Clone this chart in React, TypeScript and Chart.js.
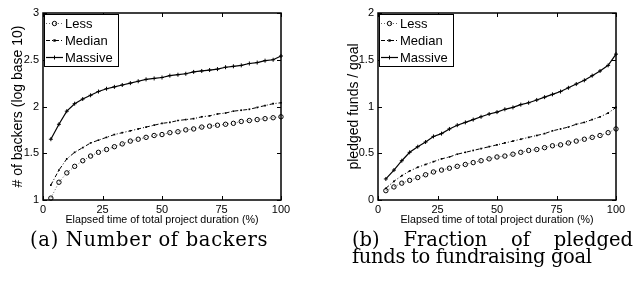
import React, { useEffect, useRef } from 'react';
import { Chart, registerables } from 'chart.js';

Chart.register(...registerables);
Chart.defaults.font.family = "'Liberation Sans', Arial, sans-serif";
Chart.defaults.color = '#000';

// Elapsed time (% of total project duration)
const elapsed = [3.3, 6.7, 10, 13.3, 16.7, 20, 23.3, 26.7, 30, 33.3, 36.7, 40, 43.3, 46.7, 50, 53.3, 56.7, 60, 63.3, 66.7, 70, 73.3, 76.7, 80, 83.3, 86.7, 90, 93.3, 96.7, 100];
const xTicks = [0, 25, 50, 75, 100];
const seriesNames = ['Less', 'Median', 'Massive'];

// (a) Number of backers (log base 10)
const backersLess = [1.02, 1.19, 1.29, 1.36, 1.42, 1.47, 1.51, 1.54, 1.57, 1.60, 1.63, 1.65, 1.67, 1.69, 1.70, 1.72, 1.73, 1.75, 1.76, 1.78, 1.79, 1.80, 1.81, 1.82, 1.84, 1.85, 1.86, 1.87, 1.88, 1.89];
const backersMedian = [1.16, 1.32, 1.44, 1.51, 1.56, 1.61, 1.64, 1.67, 1.70, 1.72, 1.74, 1.76, 1.78, 1.80, 1.82, 1.83, 1.85, 1.86, 1.87, 1.89, 1.90, 1.92, 1.93, 1.95, 1.96, 1.97, 1.99, 2.01, 2.03, 2.04];
const backersMassive = [1.65, 1.81, 1.95, 2.03, 2.08, 2.12, 2.16, 2.19, 2.21, 2.23, 2.25, 2.27, 2.29, 2.30, 2.31, 2.33, 2.34, 2.35, 2.37, 2.38, 2.39, 2.40, 2.42, 2.43, 2.44, 2.46, 2.47, 2.49, 2.50, 2.54];
const backersTicks = [1, 1.5, 2, 2.5, 3];

// (b) Fraction of pledged funds to fundraising goal
const fundsLess = [0.10, 0.14, 0.18, 0.21, 0.24, 0.27, 0.30, 0.32, 0.34, 0.36, 0.38, 0.40, 0.42, 0.44, 0.46, 0.47, 0.49, 0.51, 0.53, 0.54, 0.56, 0.58, 0.59, 0.61, 0.63, 0.65, 0.67, 0.69, 0.72, 0.76];
const fundsMedian = [0.125, 0.20, 0.26, 0.31, 0.35, 0.38, 0.41, 0.44, 0.46, 0.49, 0.51, 0.53, 0.55, 0.57, 0.59, 0.61, 0.63, 0.65, 0.67, 0.69, 0.71, 0.74, 0.76, 0.78, 0.81, 0.83, 0.86, 0.89, 0.93, 0.99];
const fundsMassive = [0.225, 0.32, 0.42, 0.51, 0.57, 0.62, 0.68, 0.71, 0.76, 0.80, 0.83, 0.86, 0.89, 0.92, 0.94, 0.97, 0.99, 1.02, 1.04, 1.07, 1.10, 1.13, 1.16, 1.20, 1.24, 1.28, 1.33, 1.38, 1.44, 1.56];
const fundsTicks = [0, 0.5, 1, 1.5, 2];

type Spec = {
  left: number;
  width: number;
  height: number;
  axisWidth: number;
  yTitlePad: number;
  yLabel: string;
  yTicks: number[];
  less: number[];
  median: number[];
  massive: number[];
};

const framePlugin = {
  id: 'frameTicks',
  afterDatasetsDraw(chart: any) {
    const { ctx, chartArea: a, scales } = chart;
    const tl = 4;
    ctx.save();
    ctx.strokeStyle = '#000';
    ctx.lineWidth = 1;
    ctx.setLineDash([]);
    ctx.beginPath();
    scales.x.ticks.forEach((t: any) => {
      const px = Math.round(scales.x.getPixelForValue(t.value)) + 0.5;
      ctx.moveTo(px, a.bottom);
      ctx.lineTo(px, a.bottom - tl);
      ctx.moveTo(px, a.top);
      ctx.lineTo(px, a.top + tl);
    });
    scales.y.ticks.forEach((t: any) => {
      const py = Math.round(scales.y.getPixelForValue(t.value)) + 0.5;
      ctx.moveTo(a.left, py);
      ctx.lineTo(a.left + tl, py);
      ctx.moveTo(a.right, py);
      ctx.lineTo(a.right - tl, py);
    });
    ctx.stroke();
    ctx.lineWidth = 1.5;
    ctx.strokeRect(a.left, a.top, a.right - a.left, a.bottom - a.top);
    ctx.restore();
  },
};

function drawMarker(ctx: CanvasRenderingContext2D, style: string, x: number, y: number, r: number) {
  ctx.setLineDash([]);
  ctx.beginPath();
  if (style === 'circle') {
    ctx.arc(x, y, r, 0, Math.PI * 2);
    ctx.stroke();
  } else if (style === 'rect') {
    ctx.fillRect(x - r, y - r, r * 2, r * 2);
  } else {
    ctx.moveTo(x - r, y);
    ctx.lineTo(x + r, y);
    ctx.moveTo(x, y - r);
    ctx.lineTo(x, y + r);
    ctx.stroke();
  }
}

const legendPlugin = {
  id: 'boxLegend',
  afterDraw(chart: any) {
    const { ctx, chartArea: a } = chart;
    const x0 = Math.round(a.left) + 1.5;
    const y0 = Math.round(a.top) + 1.5;
    const w = 74;
    const h = 52;
    ctx.save();
    ctx.fillStyle = '#fff';
    ctx.fillRect(x0, y0, w, h);
    ctx.strokeStyle = '#000';
    ctx.lineWidth = 1;
    ctx.setLineDash([]);
    ctx.strokeRect(x0, y0, w, h);
    const rows = [10, 27, 44];
    chart.data.datasets.forEach((ds: any, i: number) => {
      const y = Math.round(a.top + rows[i]) + 0.5;
      ctx.strokeStyle = ds.borderColor;
      ctx.lineWidth = ds.borderWidth;
      ctx.setLineDash(ds.borderDash || []);
      ctx.beginPath();
      ctx.moveTo(a.left + 3, y);
      ctx.lineTo(a.left + 20, y);
      ctx.stroke();
      ctx.strokeStyle = '#000';
      ctx.fillStyle = '#000';
      ctx.lineWidth = 1;
      drawMarker(ctx, ds.pointStyle, a.left + 11.5, y, ds.pointRadius);
      ctx.fillStyle = '#000';
      ctx.font = "13px 'Liberation Sans', Arial, sans-serif";
      ctx.textBaseline = 'middle';
      ctx.textAlign = 'left';
      ctx.fillText(ds.label, a.left + 22, y + 0.5);
    });
    ctx.restore();
  },
};

function makeConfig(s: Spec): any {
  const pts = (arr: number[]) => elapsed.map((x, i) => ({ x, y: arr[i] }));
  return {
    type: 'line',
    data: {
      datasets: [
        {
          label: seriesNames[0],
          data: pts(s.less),
          borderColor: 'rgba(0,0,0,0.6)',
          borderWidth: 1,
          borderDash: [1, 2],
          pointStyle: 'circle',
          pointRadius: 2.2,
          pointBorderColor: '#000',
          pointBackgroundColor: 'rgba(0,0,0,0)',
          pointBorderWidth: 1,
          tension: 0,
          clip: false,
        },
        {
          label: seriesNames[1],
          data: pts(s.median),
          borderColor: '#000',
          borderWidth: 1,
          borderDash: [4, 2, 1, 2],
          pointStyle: 'rect',
          pointRadius: 1.2,
          pointBorderColor: '#000',
          pointBackgroundColor: '#000',
          pointBorderWidth: 0,
          tension: 0,
          clip: false,
        },
        {
          label: seriesNames[2],
          data: pts(s.massive),
          borderColor: '#000',
          borderWidth: 1.2,
          borderDash: [],
          pointStyle: 'cross',
          pointRadius: 2,
          pointBorderColor: '#000',
          pointBorderWidth: 1,
          tension: 0,
          clip: false,
        },
      ],
    },
    options: {
      animation: false,
      responsive: false,
      maintainAspectRatio: false,
      events: [],
      layout: { padding: { top: 13, right: s.width - s.axisWidth - 238, left: 0, bottom: 0 } },
      plugins: { legend: { display: false }, tooltip: { enabled: false } },
      scales: {
        x: {
          type: 'linear',
          min: 0,
          max: 100,
          afterBuildTicks: (sc: any) => {
            sc.ticks = xTicks.map((v) => ({ value: v }));
          },
          afterFit: (sc: any) => {
            sc.height = 30;
          },
          grid: { display: false, drawTicks: false },
          border: { display: false },
          ticks: { font: { size: 11 }, color: '#000', padding: 3, maxRotation: 0, autoSkip: false, callback: (v: any) => String(v) },
          title: {
            display: true,
            text: 'Elapsed time of total project duration (%)',
            font: { size: 10.7 },
            color: '#000',
            padding: { top: 0, bottom: 4 },
          },
        },
        y: {
          type: 'linear',
          min: s.yTicks[0],
          max: s.yTicks[s.yTicks.length - 1],
          afterBuildTicks: (sc: any) => {
            sc.ticks = s.yTicks.map((v) => ({ value: v }));
          },
          afterFit: (sc: any) => {
            sc.width = s.axisWidth;
          },
          grid: { display: false, drawTicks: false },
          border: { display: false },
          ticks: { font: { size: 11 }, color: '#000', padding: 4, autoSkip: false, callback: (v: any) => String(v) },
          title: {
            display: true,
            text: s.yLabel,
            font: { size: 14 },
            color: '#000',
            padding: { top: s.yTitlePad, bottom: 0 },
          },
        },
      },
    },
    plugins: [framePlugin, legendPlugin],
  };
}

function Plot({ spec }: { spec: Spec }) {
  const ref = useRef<HTMLCanvasElement>(null);
  useEffect(() => {
    const chart = new Chart(ref.current as HTMLCanvasElement, makeConfig(spec));
    return () => chart.destroy();
  }, []);
  return (
    <canvas
      ref={ref}
      width={spec.width}
      height={spec.height}
      style={{ position: 'absolute', left: spec.left, top: 0, width: spec.width, height: spec.height, display: 'block' }}
    />
  );
}

const specA: Spec = {
  left: 0,
  width: 300,
  height: 230,
  axisWidth: 43,
  yTitlePad: 9.6,
  yLabel: '# of backers (log base 10)',
  yTicks: backersTicks,
  less: backersLess,
  median: backersMedian,
  massive: backersMassive,
};

const specB: Spec = {
  left: 315,
  width: 320,
  height: 230,
  axisWidth: 63,
  yTitlePad: 30.6,
  yLabel: 'pledged funds / goal',
  yTicks: fundsTicks,
  less: fundsLess,
  median: fundsMedian,
  massive: fundsMassive,
};

const capFont: React.CSSProperties = {
  fontFamily: "'DejaVu Serif', 'Liberation Serif', serif",
  fontSize: 19.5,
  lineHeight: '16.5px',
  color: '#000',
  whiteSpace: 'nowrap',
  position: 'absolute',
};

export default function App() {
  return (
    <div style={{ position: 'absolute', left: 0, top: 0, width: 635, height: 282, background: '#fff', overflow: 'hidden' }}>
      <Plot spec={specA} />
      <Plot spec={specB} />
      <div style={{ ...capFont, left: 30, top: 232, letterSpacing: '0.7px' }}>(a) Number of backers</div>
      <div style={{ ...capFont, left: 352, top: 232, width: 281 }}>
        <div style={{ display: 'flex', justifyContent: 'space-between' }}>
          <span>(b)</span>
          <span>Fraction</span>
          <span>of</span>
          <span>pledged</span>
        </div>
        <div style={{ letterSpacing: '-0.35px' }}>funds to fundraising goal</div>
      </div>
    </div>
  );
}
